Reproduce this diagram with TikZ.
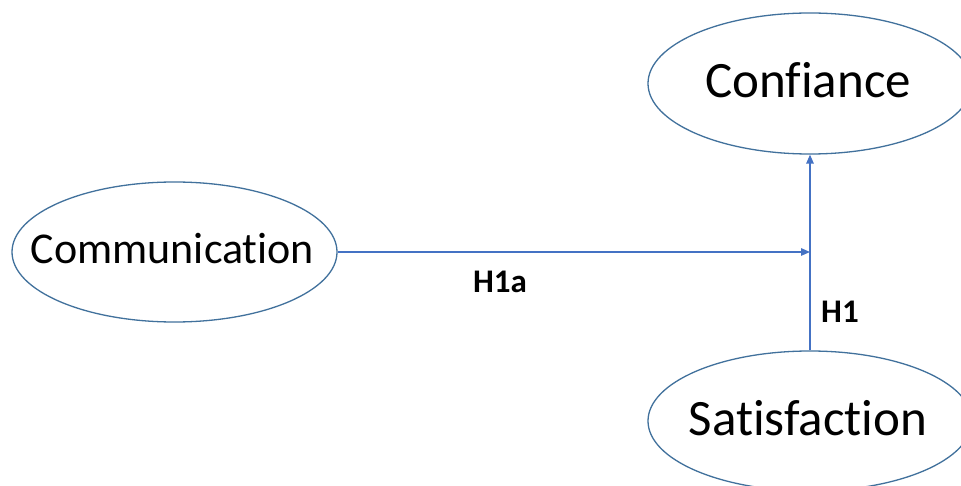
\documentclass[tikz,border=0pt]{standalone}
\usepackage{fontspec}
\setmainfont{Carlito}[Ligatures=NoCommon]
\usetikzlibrary{shapes.geometric,arrows.meta}
\definecolor{edgeblue}{HTML}{41719C}
\definecolor{linkblue}{HTML}{4472C4}
\tikzset{
  construct/.style={ellipse, draw=edgeblue, line width=1.3pt, inner sep=0pt, fill=white},
  link/.style={draw=linkblue, line width=1.3pt, -{Triangle[length=9pt,width=7.5pt]}},
  hyp/.style={font=\bfseries\fontsize{33}{38}\selectfont, inner sep=0pt}
}
\begin{document}
\begin{tikzpicture}[x=1pt,y=-1pt]
\useasboundingbox (0,0) rectangle (961,486);
\clip (0,0) rectangle (961,486);
\fill[white] (0,0) rectangle (961,486);
\node[construct, minimum width=325pt, minimum height=140pt,
  label={[font=\fontsize{44}{50}\selectfont, inner sep=0pt, yshift=3pt, xshift=-2pt]center:Communication}] (comm) at (174.5,252) {};
\node[construct, minimum width=324pt, minimum height=141pt,
  label={[font=\fontsize{51}{58}\selectfont, inner sep=0pt, yshift=3pt, xshift=-2pt]center:Confiance}] (conf) at (810,83.5) {};
\node[construct, minimum width=324pt, minimum height=140pt,
  label={[font=\fontsize{51}{58}\selectfont, inner sep=0pt, yshift=3pt, xshift=-2pt]center:Satisfaction}] (sat) at (810,421) {};
\coordinate (j) at (810,252);
\draw[link] (sat.north) -- (conf.south);
\draw[link] (comm.east) -- (j);
\node[hyp] (h1a) at (500,282) {H1a};
\node[hyp] (h1) at (840,312) {H1};
\end{tikzpicture}
\end{document}
